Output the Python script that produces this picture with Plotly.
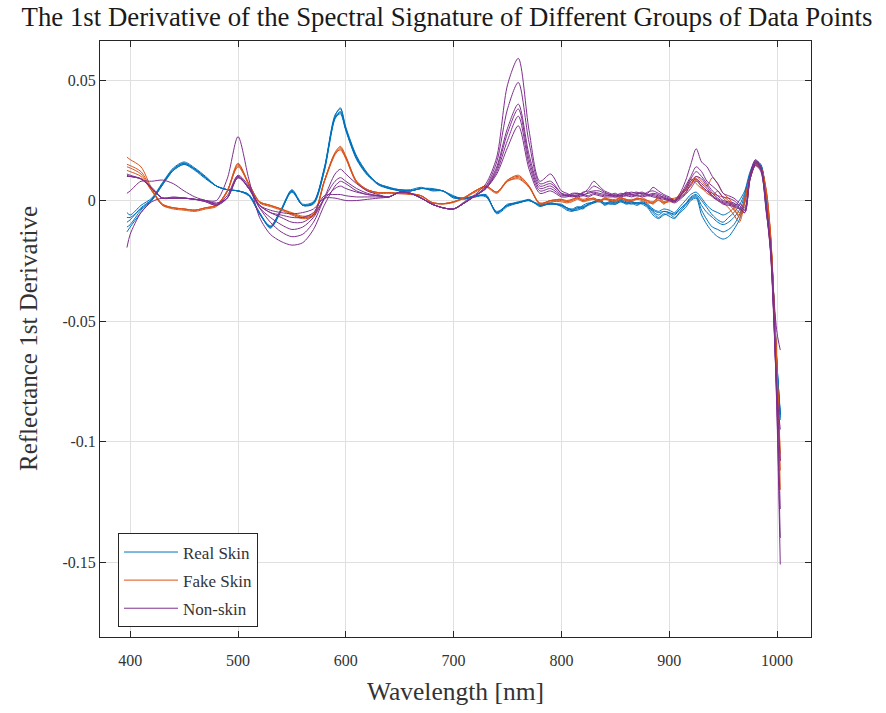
import plotly.graph_objects as go

# Wavelength grid [nm]
wavelength = [397, 400, 410, 420, 430, 440, 450, 460, 470, 480, 490, 500,
              510, 520, 530, 540, 550, 560, 570, 580, 590, 595, 600,
              610, 620, 630, 640, 650, 660, 670, 680, 690, 700,
              710, 720, 730, 740, 750, 760, 770, 780, 790, 800,
              805, 810, 815, 820, 825, 830, 835, 840, 845, 850,
              855, 860, 865, 870, 875, 880, 885, 890, 895, 900,
              905, 910, 915, 920, 925, 930, 935, 940, 945, 950,
              955, 960, 965, 970, 975, 980, 985, 990, 994, 997, 1000, 1003]

# 1st derivative values, in units of 1e-3
real_skin_1 = [-9, -8, -3, 0.5, 7, 13, 15.5, 13, 9.5, 6, 4.5, 4,
               2.5, -5.5, -11, -4, 4, -2, -1, 13, 35, 38.5, 30,
               18, 11, 7, 5.5, 4.5, 4, 5, 4.5, 4, 1.5,
               0.8, 2, 2, -5, -2, -0.8, 0, -2, -1.3, -2,
               -3.5, -4, -3, -2.5, -1.5, -0.5, 0, -1.5, -0.5, -1,
               0, -1, -0.5, -1.5, -1, -2, -4.5, -6, -4.5, -5,
               -6, -3.5, -1.5, 1, 2, -2, -5, -7, -9, -10,
               -9, -7, -4, 2, 11, 16, 14.5, 1, -17, -41, -69, -89]
real_skin_2 = [-13, -11, -5, 0, 6.5, 12.5, 15, 13, 9.5, 6, 4.5, 4,
               2.5, -5, -11.5, -4.5, 4, -2, -1.5, 12, 34, 37, 29.5,
               17.5, 11, 7, 5, 4.5, 4.5, 5.5, 4, 4, 1,
               1, 1.5, 2.5, -5.5, -2.5, -1, 0.5, -2.5, -1, -2.5,
               -4, -4.5, -3.5, -2, -1, -1, 0, -1, -1.5, -1.5,
               -0.5, -1.5, -1, -1, -1.5, -3, -6, -7.5, -6, -5.5,
               -7, -5, -3, 0, 1, -6, -10, -13, -15, -16,
               -15, -12, -8, -1, 10, 15.5, 14, 0, -18, -42, -70, -90]
real_skin_3 = [-5, -6, -2, 1, 7.5, 13.5, 16, 13.5, 10, 6, 4.5, 4,
               2, -5.5, -10.5, -3.5, 4.5, -1.5, -0.5, 13.5, 35.5, 38, 30.5,
               18.5, 11.5, 7, 5.5, 4, 4, 5, 5, 4, 2,
               0.5, 2, 1.5, -4.5, -2, -0.5, 0, -1.5, -1.5, -1.5,
               -3, -3.5, -2.5, -3, -1.5, -0.5, 0.5, -1, -0.5, -0.5,
               0.5, -0.5, -0.5, -1, -0.5, -1.5, -3.5, -4.5, -3.5, -4,
               -5, -2.5, 0, 2.5, 3.5, 1, -2, -4, -5, -6,
               -5, -3, 0, 4, 12, 16.5, 15, 2, -16, -40, -68, -88]
real_skin_4 = [-7, -7, -3.5, 0.5, 7, 13, 15.5, 13, 9.5, 6, 4.5, 4,
               2.5, -5.5, -11, -4, 4, -2, -1, 12.5, 34.5, 36.5, 29.5,
               17.5, 11, 6.5, 5, 4.5, 4, 5, 4.5, 4, 1.5,
               1, 2, 2, -5, -1.5, -1, 0, -2, -1.5, -2,
               -3, -4, -4, -3, -2, -1, -0.5, -1.5, -1, -1.5,
               -0.5, -1, -1.5, -1, -1, -2.5, -5, -7, -5.5, -6.5,
               -7.5, -4.5, -2, 0.5, 1.5, -4, -8, -11, -12, -13,
               -12, -10, -6, 0, 10.5, 15.5, 14, 0.5, -17, -42, -70, -91]
real_skin_5 = [-11, -10, -4, 0, 6.5, 12.5, 15, 12.5, 9, 6, 4.5, 4,
               2, -5, -11, -4, 3.5, -2, -1, 13, 34, 36, 29,
               17, 10.5, 7, 5, 4, 4, 5, 4.5, 4, 1.5,
               1, 1.5, 2, -5, -2, -1, 0, -2, -1, -2,
               -3, -4, -3, -3.5, -1.5, -0.5, 0, -2, -1, -1,
               0, -1, -1, -2, -1, -2, -4, -5, -4.5, -5,
               -5.5, -3.5, -1.5, 1.5, 2.5, 0, -3, -6, -8, -9,
               -7, -5, -2, 3, 11, 16, 14.5, 1.5, -16, -40, -68, -89]

fake_skin_1 = [18, 17, 14, 5, -1.5, -3, -3.5, -4, -3, -2, 4, 15.5,
               7, -0.5, -2, -3.5, -5.5, -7, -6, 8, 20, 22.5, 18.5,
               8, 4.5, 3.3, 3.3, 3, 2.8, 2, -0.8, -1.3, -0.5,
               1.3, 4, 6, 3.5, 8.5, 10.5, 6, -1.3, 0, 0.5,
               -0.5, 0, 1, 0, 0.5, 1, 0, 1, 0.5, 0,
               1, 0.5, 0, 1, 0.5, -0.5, -1, 1, -1, 0,
               0, 3, 5, 9, 7, 5, 4, 3, 2, 1.5,
               0, -3, -7, 1, 9.5, 15, 13.5, 4, -14, -40, -70, -120]
fake_skin_2 = [15, 14.5, 12, 4.5, -2, -3, -3.5, -4, -3, -2, 4, 15,
               7, -0.5, -2, -3.5, -5.5, -7, -6, 8, 19.5, 22, 18,
               8, 4.5, 3.3, 3.3, 3, 2.8, 2, -0.8, -1.3, -0.5,
               1.3, 4, 6, 3.5, 8.5, 10, 6, -1.3, 0, 0,
               -0.5, 0.5, 1.5, 0.5, 1, 0.5, -0.5, 1, 0, 0,
               1.5, 0, 0.5, 0.5, 1, 0, -1.5, 0.5, -1.5, 0.5,
               1, 2, 4, 6, 10, 8, 6, 9.5, 7, 3,
               1, -2, -5, 0, 9, 14.5, 13, 3.5, -15, -41, -71, -105]
fake_skin_3 = [14, 13.5, 11, 4, -2, -3.5, -4, -4.5, -3.5, -2.5, 3.5, 14.5,
               6.5, -1, -2.5, -4, -6, -7.5, -6.5, 7.5, 19, 21.5, 17.5,
               7.5, 4, 3, 3, 2.8, 2.5, 1.8, -1, -1.5, -0.8,
               1, 3.5, 5.5, 3, 8, 9.5, 5.5, -1.5, -0.5, -0.5,
               -1, -0.5, 0.5, -0.5, 0, 0.5, -0.5, 0.5, 0, -0.5,
               0.5, 0, -0.5, 0.5, 0, -1, -1, 0, -1, -0.5,
               -0.5, 1.5, 3, 6.5, 8.5, 6, 4, 2, 0, -1,
               -3, -6, -9, -1, 9, 14.5, 13, 3, -15, -41, -72, -112]
fake_skin_4 = [12.5, 12, 10, 4, -1.5, -3, -3.5, -4, -3, -2, 4, 14,
               7, -0.5, -2, -3.5, -5, -6.5, -5.5, 8, 19.5, 21, 17.5,
               7.5, 4.5, 3.3, 3.3, 3, 2.8, 2, -0.8, -1.3, -0.5,
               1.3, 4, 6, 3.5, 8, 9, 5.5, -1, 0, 0.5,
               0, 0.5, 1, 0, 0.5, 1, 0, 0.5, 0.5, 0.5,
               1, 0.5, 0, 1, 0.5, 0, -0.5, 1.5, -0.5, 0.5,
               0.5, 2.5, 4.5, 8, 9, 5.5, 3, 2, 4, 1,
               -1, -4, -6, 0.5, 10, 16, 14, 4.5, -14, -40, -70, -108]

non_skin_1 = [10.5, 10, 9, 5, 1, 1.5, 1, 0.5, 0, 0, 9, 26.5,
              9, -7, -14, -17, -18.5, -17.5, -12, -2, 6, 8, 7,
              4, 2.5, 2, 1.5, 3.5, 3, 1, -1.5, -3, -3.5,
              -0.5, 2.5, 7, 18, 48, 59, 29, 8, 11, 4,
              3, 2, 2.5, 3, 5, 8, 6, 4, 3, 2,
              2.5, 3, 3.5, 3, 3, 3, 5.5, 4, 2.5, 1.5,
              0, 3, 8, 15, 21.5, 16, 14, 10, 7, 3,
              2, 1, -1, -3, 11, 17, 14, -2, -20, -48, -90, -151]
non_skin_2 = [10, 10, 9, 5.5, 1, 1, 1, 0.5, 0, -1.5, 2, 10.5,
              6, -3, -9, -13, -15, -14, -9, 1, 11, 13, 11,
              7, 4, 2.5, 1.5, 3.5, 3, 1, -1.5, -3, -3.5,
              -1, 2, 6, 16, 38, 49, 24, 7, 8, 3,
              2.5, 2, 2, 3.5, 4, 6, 5, 3.5, 2.5, 2,
              3, 2.5, 3, 3.5, 2.5, 3.5, 4, 3, 2, 1,
              0, 2, 6, 10, 14, 12, 8, 6, 4, 1.5,
              1, 0, -2, -4, 10, 16.5, 13.5, -3, -21, -48, -85, -128]
non_skin_3 = [11, 10.5, 9, 5, 1, 1, 1, 0.5, -0.5, -2, 1, 10,
              5, -3, -7, -10, -12, -11, -7, 0.5, 5, 6, 5,
              3.5, 2.5, 2, 1.5, 3.5, 3, 1, -1.5, -3, -3.5,
              -1, 2, 5.5, 14, 30, 40, 19, 6, 7, 3,
              2, 3, 3, 2, 3.5, 4, 4, 3, 2.5, 3,
              2, 3.5, 2.5, 3, 3.5, 2.5, 3, 2.5, 1, 0.5,
              -0.5, 1.5, 5, 9, 12, 10, 7, 4, 2, 0,
              -0.5, -1, -3, -5, 9, 15.5, 13, -4, -22, -50, -82, -108]
non_skin_4 = [3, 4, 8, 8, 8.5, 7, 4, 1.5, 0, -1, 1, 9.5,
              5.5, -2, -5, -7, -9, -9, -6, 1, 8, 9.5, 8,
              5, 3, 2, 1.5, 3.5, 3, 1, -1.5, -3, -3.5,
              -1, 2, 5, 13, 28, 38, 17, 5, 6, 2.5,
              2, 2.5, 3, 2.5, 3, 3.5, 3, 2.5, 2, 2.5,
              2, 3, 2, 2.5, 3, 2, 2.5, 2, 1.5, 0.5,
              0, 2, 4, 8, 10, 9, 6, 3, 1, -0.5,
              -1, -1.5, -2, -4, 10, 16, 13, -3, -20, -47, -80, -95]
non_skin_5 = [-19.5, -14, -5, -0.5, 1, 1, 1, 0.5, 0, -1.5, 1, 9.5,
              5, -2, -5, -6, -7, -7, -5, 2, 2.5, 2.5, 2,
              1.5, 1.5, 1.5, 1.5, 3.5, 3, 1, -1.5, -3, -3.5,
              -1, 2, 5, 12, 25, 35, 15, 4, 5, 2,
              2, 1.5, 2, 2.5, 2, 3, 2.5, 2, 2, 1.5,
              2, 2, 2.5, 2, 2, 2.5, 2, 1.5, 1, 0,
              -0.5, 1, 3, 7, 9, 7, 5, 2, 0.5, -1,
              -1.5, -2, -3, -5, 9, 15, 12.5, -5, -18, -40, -55, -62]
non_skin_6 = [10, 10, 9, 5, 1, 1, 1, 0.5, -0.5, -2, 1, 10,
              5, -2, -4, -5, -5.5, -5, -3.5, 1, 1, 0.5, 0,
              0, 0.5, 1, 1.5, 3.5, 3, 1, -1.5, -3, -3.5,
              -1, 2, 5, 11, 22, 31, 13, 3, 4, 1.5,
              1.5, 2, 1.5, 2, 1.5, 2.5, 2, 1.5, 1.5, 1.5,
              1.5, 2, 1.5, 2, 1.5, 2, 1.5, 1, 0.5, 0,
              -1, 0.5, 2.5, 5, 8, 6, 4, 1.5, 0, -1.5,
              -2, -2.5, -3.5, -5, 9, 14.5, 12, -4, -21, -48, -88, -140]

groups = [
    ("Real Skin", "#0072BD", [real_skin_1, real_skin_2, real_skin_3, real_skin_4, real_skin_5]),
    ("Fake Skin", "#D95319", [fake_skin_1, fake_skin_2, fake_skin_3, fake_skin_4]),
    ("Non-skin", "#7E2F8E", [non_skin_1, non_skin_2, non_skin_3, non_skin_4, non_skin_5, non_skin_6]),
]

x_ticks = [400, 500, 600, 700, 800, 900, 1000]
y_ticks = [-0.15, -0.1, -0.05, 0, 0.05]
y_tick_labels = ["-0.15", "-0.1", "-0.05", "0", "0.05"]

FONT = "Liberation Serif"
TXT = "#262626"

fig = go.Figure()
for name, color, series in groups:
    for i, vals in enumerate(series):
        fig.add_trace(go.Scatter(
            x=wavelength, y=[v / 1000 for v in vals], mode="lines",
            line=dict(color=color, width=1, shape="spline", smoothing=0.8),
            name=name, legendgroup=name, showlegend=(i == 0), hoverinfo="skip"))

fig.update_layout(
    width=886, height=713,
    margin=dict(l=100, r=75, t=41, b=76),
    paper_bgcolor="white", plot_bgcolor="white",
    font=dict(family=FONT, color=TXT),
    title=dict(text="The 1st Derivative of the Spectral Signature of Different Groups of Data Points",
               font=dict(family=FONT, size=26.8, color="#1a1a1a"),
               x=0.5045, xanchor="center", xref="container",
               y=1 - 17 / 713, yanchor="middle", yref="container"),
    xaxis=dict(range=[372, 1031.5], tickvals=x_ticks, ticks="inside", ticklen=6,
               tickcolor=TXT, showline=True, linecolor=TXT, linewidth=1, mirror="ticks",
               showgrid=True, gridcolor="#e0e0e0", gridwidth=1, zeroline=False,
               ticklabelstandoff=9,
               tickfont=dict(family=FONT, size=16, color="#333333"),
               title=dict(text="Wavelength [nm]", font=dict(family=FONT, size=25.5, color="#333333"),
                          standoff=13)),
    yaxis=dict(range=[-0.1811, 0.0662], tickvals=y_ticks, ticktext=y_tick_labels,
               ticks="inside", ticklen=6, tickcolor=TXT, showline=True, linecolor=TXT,
               linewidth=1, mirror="ticks", showgrid=True, gridcolor="#e0e0e0", gridwidth=1,
               zeroline=False, tickfont=dict(family=FONT, size=16, color="#333333")),
    annotations=[dict(text="Reflectance 1st Derivative", textangle=-90, showarrow=False,
                      xref="paper", yref="paper", x=(28 - 100) / 711, y=0.5,
                      xanchor="center", yanchor="middle",
                      font=dict(family=FONT, size=25, color="#333333"))],
    legend=dict(x=0.0253, y=0.1737, xanchor="left", yanchor="top",
                bgcolor="white", bordercolor=TXT, borderwidth=1,
                font=dict(family=FONT, size=17, color="#333333"),
                traceorder="grouped", tracegroupgap=3, itemwidth=54),
    showlegend=True,
)

fig.write_html("out.html")
